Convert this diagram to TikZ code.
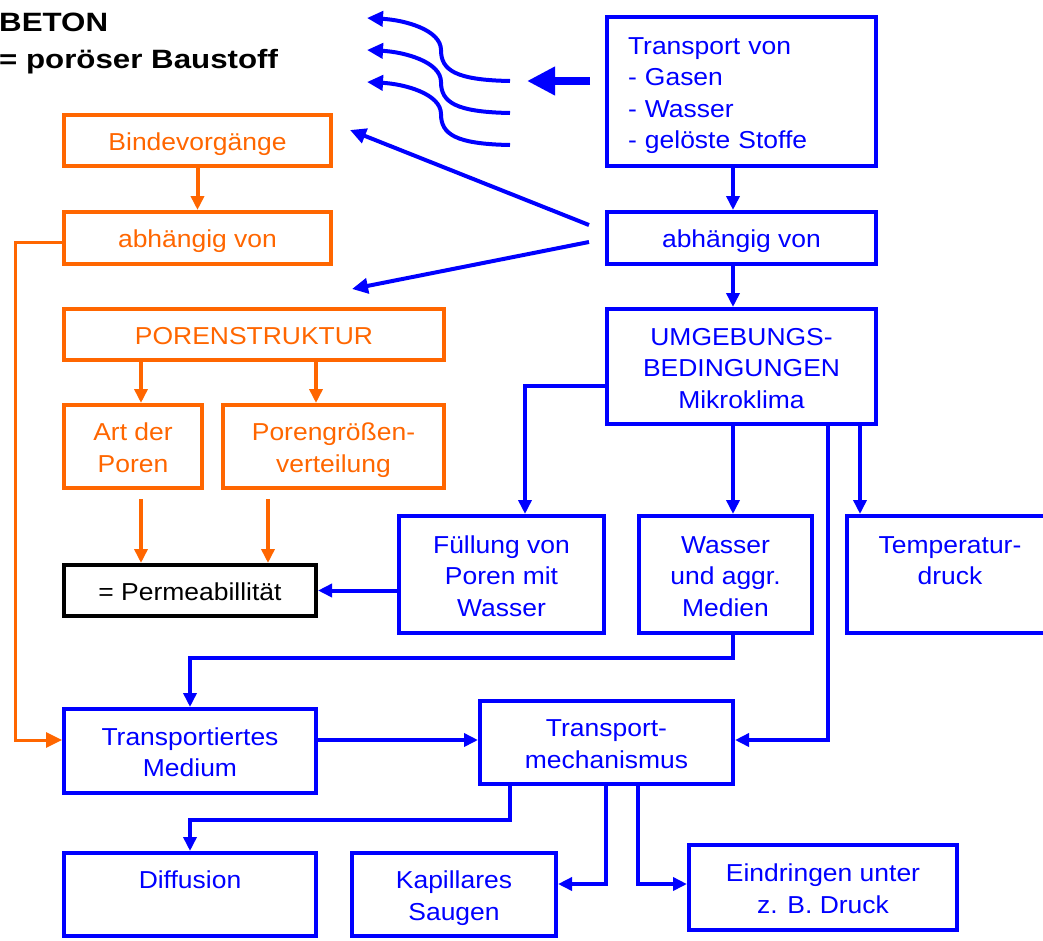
\documentclass[tikz,border=0pt]{standalone}
\usepackage{fontspec}
\setmainfont{Liberation Sans}[FakeStretch=1.08]
\newfontfamily\titlefont{Liberation Sans}[FakeStretch=1.18]
\usetikzlibrary{arrows.meta,calc}
\definecolor{myblue}{RGB}{0,0,255}
\definecolor{myorange}{RGB}{255,102,0}
\newcommand\TS{\rule{0pt}{25pt}}
\newcommand\BS{\rule[-5pt]{0pt}{5pt}}
\begin{document}
\begin{tikzpicture}[x=1pt,y=-1pt,
  txt/.style={font=\fontsize{24.5}{31.5}\selectfont, align=center, inner sep=0pt, line width=4pt},
  bbox/.style={txt, draw=myblue, text=myblue},
  obox/.style={txt, draw=myorange, text=myorange},
  kbox/.style={txt, draw=black, text=black},
  tip/.style={-{Triangle[length=14pt,width=13pt]}},
  bigtip/.style={-{Triangle[length=16pt,width=15pt]}},
  bline/.style={draw=myblue, line width=4pt},
  oline/.style={draw=myorange, line width=4pt},
]
\useasboundingbox (0,0) rectangle (1043,940);
\clip (0,0) rectangle (1043,940);

% title
\node[anchor=north west, inner sep=0pt, align=left, font=\titlefont\bfseries\fontsize{26.5}{37}\selectfont] (title) at (-1,13) {BETON\\= poröser Baustoff};

% blue boxes
\node[bbox, minimum width=269pt, minimum height=149pt, text width=227pt, align=left] (tr) at (741.5,91.5) {\TS Transport von\\- Gasen\\- Wasser\\- gelöste Stoffe\BS};
\node[bbox, minimum width=269pt, minimum height=52pt] (ab) at (741.5,238) {\TS abhängig von\BS};
\node[bbox, minimum width=269pt, minimum height=115pt] (um) at (741.5,366.5) {\TS UMGEBUNGS-\\BEDINGUNGEN\\Mikroklima\BS};
\node[bbox, minimum width=205pt, minimum height=117pt] (fu) at (501.5,574.5) {\TS Füllung von\\Poren mit\\Wasser\BS};
\node[bbox, minimum width=173pt, minimum height=117pt] (wa) at (725.5,574.5) {\TS Wasser\\und aggr.\\Medien\BS};
\node[bbox, minimum width=206pt, minimum height=117pt] (te) at (950,574.5) {\TS Temperatur-\\druck\\\BS};
\node[bbox, minimum width=252pt, minimum height=84pt] (tmed) at (190,751) {\TS Transportiertes\\Medium\BS};
\node[bbox, minimum width=253pt, minimum height=83pt] (tm) at (606.5,742.5) {\TS Transport-\\mechanismus\BS};
\node[bbox, minimum width=252pt, minimum height=83pt] (di) at (190,894.5) {\TS Diffusion\\\BS};
\node[bbox, minimum width=204pt, minimum height=83pt] (ka) at (454,894.5) {\TS Kapillares\\Saugen\BS};
\node[bbox, minimum width=268pt, minimum height=85pt] (ei) at (823,887.5) {\TS Eindringen unter\\z. B. Druck\BS};

% orange boxes
\node[obox, minimum width=267pt, minimum height=51pt] (bv) at (197.5,140.5) {\TS Bindevorgänge\BS};
\node[obox, minimum width=267pt, minimum height=52pt] (oab) at (197.5,238) {\TS abhängig von\BS};
\node[obox, minimum width=380pt, minimum height=51pt] (po) at (254,334.5) {\TS PORENSTRUKTUR\BS};
\node[obox, minimum width=138pt, minimum height=83pt] (art) at (133,446.5) {\TS Art der\\Poren\BS};
\node[obox, minimum width=221pt, minimum height=83pt] (pg) at (333.5,446.5) {\TS Porengrößen-\\verteilung\BS};
\node[kbox, minimum width=252pt, minimum height=51pt] (pe) at (190,590.5) {\TS = Permeabillität\BS};

% helper coordinates
\coordinate (x733) at (733,0);
\coordinate (x525) at (525,0);
\coordinate (x828) at (828,0);
\coordinate (x860) at (860,0);
\coordinate (x15) at (15,0);
\coordinate (x141) at (141,0);
\coordinate (x316) at (316,0);
\coordinate (x268) at (268,0);
\coordinate (x510) at (510,0);
\coordinate (x606) at (606,0);
\coordinate (x638) at (638,0);
\coordinate (y242) at (0,242);
\coordinate (y386) at (0,386);
\coordinate (y658) at (0,658);
\coordinate (y740) at (0,740);
\coordinate (y820) at (0,820);
\coordinate (y884) at (0,884);
\coordinate (t1) at (350,130);
\coordinate (t2) at (352,289);
\coordinate (ts) at (590,81);
\coordinate (tt) at (527,81);

% blue connectors
\draw[bline,tip] (tr.south -| x733) -- (ab.north -| x733);
\draw[bline,tip] (ab.south -| x733) -- (um.north -| x733);
\draw[bline,tip] (um.west |- y386) -| (fu.north -| x525);
\draw[bline,tip] (um.south -| x733) -- (wa.north -| x733);
\draw[bline,tip] (um.south -| x828) |- (tm.east |- y740);
\draw[bline,tip] (um.south -| x860) -- (te.north -| x860);
\draw[bline,tip] (fu.west |- pe.east) -- (pe.east);
\draw[bline,tip] (wa.south -| x733) |- (tmed.north |- y658) -- (tmed.north);
\draw[bline,tip] (tmed.east |- y740) -- (tm.west |- y740);
\draw[bline,tip] (tm.south -| x510) |- (di.north |- y820) -- (di.north);
\draw[bline,tip] (tm.south -| x606) |- (ka.east |- y884);
\draw[bline,tip] (tm.south -| x638) |- (ei.west |- y884);
\draw[bline,bigtip] ($(ab.west)+(-16,-13)$) -- (t1);
\draw[bline,bigtip] ($(ab.west)+(-16,4)$) -- (t2);
\draw[draw=myblue, line width=8pt, -{Triangle[length=28pt,width=27pt]}] (ts) -- (tt);
\foreach \d in {0,32,64}
  \draw[bline,bigtip] (510,81+\d) .. controls (455,80+\d) and (441,70+\d) .. (441,50+\d) .. controls (441,30+\d) and (405,20+\d) .. (367,18+\d);

% orange connectors
\draw[oline,tip] (bv.south) -- (oab.north);
\draw[oline,tip] (po.south -| x141) -- (art.north -| x141);
\draw[oline,tip] (po.south -| x316) -- (pg.north -| x316);
\draw[oline,tip,shorten <=9pt] (art.south -| x141) -- (pe.north -| x141);
\draw[oline,tip,shorten <=9pt] (pg.south -| x268) -- (pe.north -| x268);
\draw[oline,line width=3pt,bigtip] (oab.west |- y242) -- (x15 |- y242) |- (tmed.west |- y740);
\end{tikzpicture}
\end{document}
